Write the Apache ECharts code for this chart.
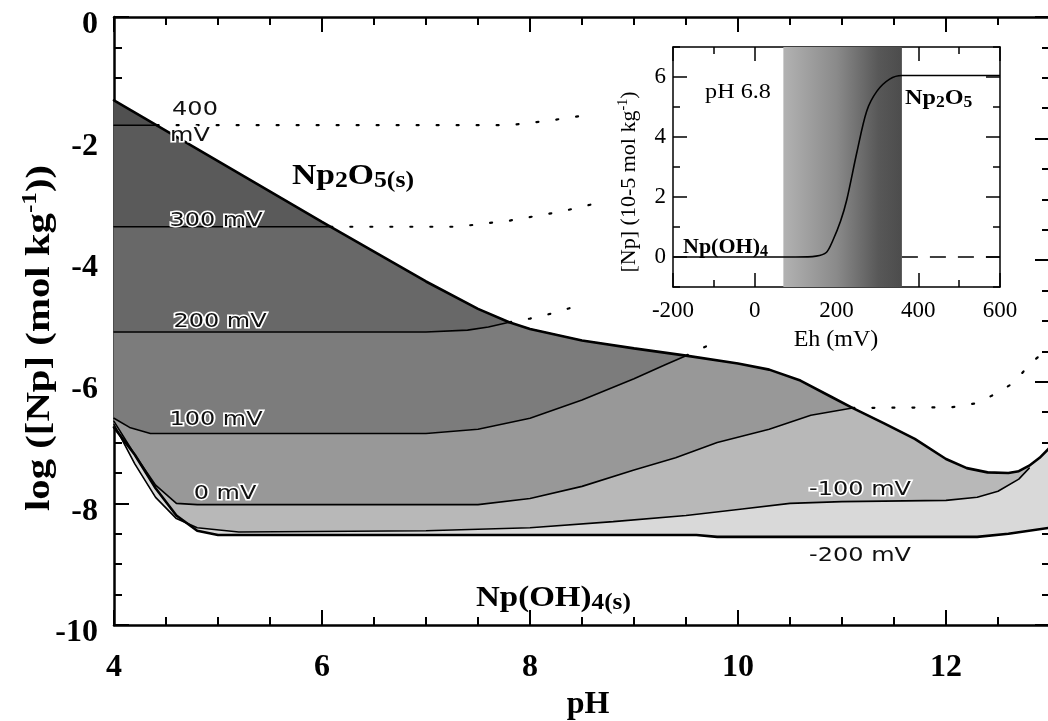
<!DOCTYPE html>
<html><head><meta charset="utf-8">
<script src="https://cdn.jsdelivr.net/npm/echarts@6/dist/echarts.min.js"></script>
<style>html,body{margin:0;padding:0;background:#fff}#c{width:1048px;height:721px}</style>
</head><body><div id="c"></div>
<script>
// ---------- data (pH, log[Np]) ----------
const xTickVals = [4, 6, 8, 10, 12];
const yTickVals = [0, -2, -4, -6, -8, -10];
// Np2O5(s) solubility boundary (upper envelope)
const solNp2O5 = [[4,-1.37],[5,-2.37],[6,-3.37],[7,-4.35],[7.5,-4.8],[7.8,-5.02],[8.0,-5.13],[8.5,-5.32],[9.0,-5.45],[9.5,-5.57],[10.0,-5.7],[10.3,-5.8],[10.6,-5.98],[10.9,-6.25],[11.1,-6.43],[11.4,-6.68],[11.7,-6.94],[12.0,-7.27],[12.2,-7.42],[12.4,-7.49],[12.6,-7.5],[12.7,-7.47],[12.8,-7.38],[12.9,-7.25],[13.0,-7.08]];
// iso-Eh lines (solid part, below the Np2O5 boundary)
const eh400 = [[4,-1.78],[4.41,-1.78]];
const eh300 = [[4,-3.45],[6.08,-3.45]];
const eh200 = [[4,-5.18],[7.0,-5.18],[7.4,-5.15],[7.6,-5.1],[7.8,-5.02]];
const eh100 = [[4,-6.6],[4.15,-6.75],[4.35,-6.85],[7.0,-6.85],[7.5,-6.78],[8.0,-6.6],[8.5,-6.3],[9.0,-5.95],[9.3,-5.72],[9.5,-5.57]];
const eh0 = [[4,-6.65],[4.2,-7.2],[4.4,-7.7],[4.6,-8.0],[4.8,-8.02],[7.5,-8.02],[8.0,-7.92],[8.5,-7.72],[9.0,-7.45],[9.4,-7.25],[9.8,-7.0],[10.3,-6.78],[10.7,-6.55],[11.1,-6.43]];
const ehM100 = [[4,-6.7],[4.2,-7.35],[4.4,-7.9],[4.6,-8.25],[4.8,-8.4],[5.2,-8.47],[7.0,-8.45],[8.0,-8.4],[8.8,-8.3],[9.5,-8.2],[10.0,-8.1],[10.5,-8.0],[11.0,-7.97],[12.0,-7.95],[12.3,-7.9],[12.5,-7.8],[12.7,-7.6],[12.8,-7.42]];
const ehM200 = [[4,-6.75],[4.2,-7.2],[4.4,-7.75],[4.6,-8.2],[4.8,-8.45],[5.0,-8.52],[9.6,-8.52],[9.8,-8.55],[12.3,-8.55],[12.6,-8.5],[13.0,-8.4]];
// dotted continuations into the Np2O5(s) field
const dot400 = [[4.41,-1.78],[7.8,-1.78],[8.2,-1.7],[8.6,-1.6]];
const dot300 = [[6.08,-3.45],[7.3,-3.45],[7.8,-3.35],[8.3,-3.2],[8.6,-3.08]];
const dot200 = [[7.8,-5.02],[8.0,-4.96],[8.2,-4.88],[8.4,-4.78]];
const dot100 = [[9.5,-5.57],[9.65,-5.45],[9.85,-5.3]];
const dot0 = [[11.1,-6.43],[12.05,-6.42],[12.3,-6.35],[12.45,-6.22],[12.65,-6.02],[12.8,-5.72],[13.0,-5.42]];
// inset: [Np] (1e-5 mol/kg) vs Eh (mV) at pH 6.8
const insetEh = [-200, 100, 150, 175, 191, 210, 225, 250, 274, 299, 330, 360, 600];
const insetNp = [0, 0, 0.03, 0.15, 0.55, 1.2, 1.9, 3.5, 4.87, 5.53, 5.93, 6.05, 6.05];
const insetBand = [70, 360];
const insetDashed = [[360, 0], [600, 0]];
const insetYTicks = [0, 2, 4, 6];

// ---------- build ----------
function ext(L) {
  const last = L[L.length - 1][0];
  return L.concat(solNp2O5.filter(p => p[0] > last + 1e-9));
}
const full400 = ext(eh400), full300 = ext(eh300), full200 = ext(eh200),
      full100 = ext(eh100), full0 = ext(eh0), fullM100 = ext(ehM100);
const bands = [
  [solNp2O5, full400, '#505050'],
  [full400, full300, '#5a5a5a'],
  [full300, full200, '#686868'],
  [full200, full100, '#7c7c7c'],
  [full100, full0, '#989898'],
  [full0, fullM100, '#b8b8b8'],
  [fullM100, ehM200, '#d9d9d9']
];
function bandSeries(upper, lower, color) {
  return {
    type: 'custom', coordinateSystem: 'cartesian2d', xAxisIndex: 0, yAxisIndex: 0,
    data: [[upper[0][0], upper[0][1]]], silent: true, z: 1, animation: false,
    renderItem: function (params, api) {
      const pts = upper.map(p => api.coord(p)).concat(lower.slice().reverse().map(p => api.coord(p)));
      return { type: 'polygon', shape: { points: pts }, style: { fill: color, stroke: color, lineWidth: 0.6 } };
    }
  };
}
function lineSeries(data, width, dotted) {
  return {
    type: 'line', xAxisIndex: 0, yAxisIndex: 0, data: data, showSymbol: false, symbol: 'none',
    silent: true, z: dotted ? 3 : 4, animation: false,
    lineStyle: { color: '#000', width: width, type: dotted ? [2, 18] : 'solid', cap: 'round' }
  };
}

const serif = 'Liberation Serif, Times New Roman, serif';
const sans = 'DejaVu Sans, sans-serif';
function ax(o) {
  const base = {
    splitLine: { show: false },
    axisLine: { show: true, onZero: false, lineStyle: { color: '#000', width: 2.5 } },
    axisTick: { show: true, inside: true, length: 15, lineStyle: { color: '#000', width: 2 } },
    axisLabel: { show: false }
  };
  const r = Object.assign(base, o);
  r.axisLine = Object.assign({ onZero: false }, r.axisLine);
  return r;
}
const minorTickMain = { show: true, inside: true, length: 8, lineStyle: { color: '#000', width: 2 } };
const inLine = { show: true, onZero: false, lineStyle: { color: '#000', width: 1.5 } };

const xAxes = [
  ax({ gridIndex: 0, type: 'value', min: 4, max: 13, interval: 2, position: 'bottom',
       axisLabel: { show: true, showMaxLabel: false, color: '#000', fontFamily: serif, fontWeight: 'bold', fontSize: 32, margin: 27,
                    formatter: v => xTickVals.indexOf(v) >= 0 ? String(v) : '' } }),
  ax({ gridIndex: 0, type: 'value', min: 4, max: 13, interval: 0.5, position: 'bottom', axisLine: { show: false }, axisTick: minorTickMain }),
  ax({ gridIndex: 0, type: 'value', min: 4, max: 13, interval: 2, position: 'top' }),
  ax({ gridIndex: 0, type: 'value', min: 4, max: 13, interval: 0.5, position: 'top', axisLine: { show: false }, axisTick: minorTickMain }),
  // inset
  ax({ gridIndex: 1, type: 'value', min: -200, max: 600, interval: 200, position: 'bottom', axisLine: inLine,
       axisTick: { show: true, inside: true, length: 14, lineStyle: { color: '#000', width: 1.5 } },
       minorTick: { show: true, splitNumber: 2, length: 7, lineStyle: { color: '#000', width: 1.5 } },
       axisLabel: { show: true, color: '#000', fontFamily: serif, fontSize: 23, margin: 12 } }),
  ax({ gridIndex: 1, type: 'value', min: -200, max: 600, interval: 200, position: 'top', axisLine: inLine,
       axisTick: { show: true, inside: true, length: 14, lineStyle: { color: '#000', width: 1.5 } },
       minorTick: { show: true, splitNumber: 2, length: 7, lineStyle: { color: '#000', width: 1.5 } } })
];
const yAxes = [
  ax({ gridIndex: 0, type: 'value', min: -10, max: 0, interval: 2, position: 'left',
       axisLabel: { show: true, color: '#000', fontFamily: serif, fontWeight: 'bold', fontSize: 32, margin: 16,
                    verticalAlign: 'top', lineHeight: 16,
                    formatter: v => yTickVals.indexOf(v) >= 0 ? String(v) : '' } }),
  ax({ gridIndex: 0, type: 'value', min: -10, max: 0, interval: 0.5, position: 'left', axisLine: { show: false }, axisTick: minorTickMain }),
  ax({ gridIndex: 0, type: 'value', min: -10, max: 0, interval: 2, position: 'right' }),
  ax({ gridIndex: 0, type: 'value', min: -10, max: 0, interval: 0.5, position: 'right', axisLine: { show: false }, axisTick: minorTickMain }),
  // inset left (short ticks every 1, labels on even)
  ax({ gridIndex: 1, type: 'value', min: -1, max: 7, interval: 1, position: 'left', axisLine: inLine,
       axisTick: { show: true, inside: true, length: 7, lineStyle: { color: '#000', width: 1.5 } },
       axisLabel: { show: true, color: '#000', fontFamily: serif, fontSize: 23, margin: 7,
                    formatter: v => insetYTicks.indexOf(v) >= 0 ? String(v) : '' } }),
  ax({ gridIndex: 1, type: 'value', min: -1, max: 7, position: 'left', axisLine: { show: false },
       axisTick: { show: true, inside: true, length: 14, customValues: insetYTicks, lineStyle: { color: '#000', width: 1.5 } } }),
  ax({ gridIndex: 1, type: 'value', min: -1, max: 7, interval: 1, position: 'right', axisLine: inLine,
       axisTick: { show: true, inside: true, length: 7, lineStyle: { color: '#000', width: 1.5 } } }),
  ax({ gridIndex: 1, type: 'value', min: -1, max: 7, position: 'right', axisLine: { show: false },
       axisTick: { show: true, inside: true, length: 14, customValues: insetYTicks, lineStyle: { color: '#000', width: 1.5 } } })
];

const series = [];
bands.forEach(b => series.push(bandSeries(b[0], b[1], b[2])));
[dot400, dot300, dot200, dot100, dot0].forEach(d => series.push(lineSeries(d, 2.2, true)));
series.push(lineSeries(solNp2O5, 2.6, false));
series.push(lineSeries(ehM200, 2.6, false));
[eh400, eh300, eh200, eh100, eh0, ehM100].forEach(d => series.push(lineSeries(d, 1.6, false)));
// inset
series.push({
  type: 'line', xAxisIndex: 4, yAxisIndex: 4, data: insetEh.map((e, i) => [e, insetNp[i]]),
  showSymbol: false, smooth: 0.3, silent: true, animation: false, z: 6,
  lineStyle: { color: '#000', width: 1.6 },
  markArea: { silent: true, z: 1,
    itemStyle: { color: new echarts.graphic.LinearGradient(0, 0, 1, 0, [
      { offset: 0, color: '#b2b2b2' }, { offset: 0.45, color: '#8a8a8a' }, { offset: 0.8, color: '#585858' }, { offset: 1, color: '#4c4c4c' }]) },
    data: [[{ xAxis: insetBand[0], yAxis: -1 }, { xAxis: insetBand[1], yAxis: 7 }]] }
});
series.push({
  type: 'line', xAxisIndex: 4, yAxisIndex: 4, data: insetDashed, showSymbol: false, silent: true, animation: false, z: 6,
  lineStyle: { color: '#000', width: 1.6, type: [16, 12] }
});

const mv = (t, x, y) => ({
  type: 'text', x: x, y: y, z: 50, scaleX: 1.2,
  style: { text: t, font: '20px ' + sans, fill: '#111', stroke: '#fff', lineWidth: 3, align: 'center', verticalAlign: 'middle' }
});
const big = { fontFamily: serif, fontWeight: 'bold', fontSize: 30, fill: '#000', lineHeight: 34 };
const bigSub = { fontFamily: serif, fontWeight: 'bold', fontSize: 23, fill: '#000', lineHeight: 34, verticalAlign: 'bottom' };
const inN = { fontFamily: serif, fontWeight: 'bold', fontSize: 22, fill: '#000', lineHeight: 26 };
const inSub = { fontFamily: serif, fontWeight: 'bold', fontSize: 16, fill: '#000', lineHeight: 26, verticalAlign: 'bottom' };

const graphics = [
  mv('400', 195, 110), mv('mV', 190, 136),
  mv('300 mV', 216, 221), mv('200 mV', 220, 322), mv('100 mV', 216, 420),
  mv('0 mV', 225, 494), mv('-100 mV', 860, 490), mv('-200 mV', 860, 556),
  { type: 'text', x: 292, y: 176, z: 50, scaleX: 1.12, style: { text: '{a|Np}{b|2}{a|O}{b|5(s)}', rich: { a: big, b: bigSub }, verticalAlign: 'middle' } },
  { type: 'text', x: 476, y: 598, z: 50, scaleX: 1.1, style: { text: '{a|Np(OH)}{b|4(s)}', rich: { a: big, b: bigSub }, verticalAlign: 'middle' } },
  { type: 'text', x: 588, y: 705, z: 50, style: { text: 'pH', font: 'bold 32px ' + serif, fill: '#000', align: 'center', verticalAlign: 'middle' } },
  { type: 'text', x: 40, y: 338, z: 50, rotation: Math.PI / 2, scaleX: 1.2,
    style: { text: '{a|log ([Np] (mol kg}{s|-1}{a|))}', align: 'center', verticalAlign: 'middle',
      rich: { a: { fontFamily: serif, fontWeight: 'bold', fontSize: 34, fill: '#000', lineHeight: 40 },
              s: { fontFamily: serif, fontWeight: 'bold', fontSize: 21, fill: '#000', lineHeight: 40, verticalAlign: 'top' } } } },
  // inset texts
  { type: 'text', x: 738, y: 92, z: 50, scaleX: 1.1, style: { text: 'pH 6.8', font: '22px ' + serif, fill: '#000', align: 'center', verticalAlign: 'middle' } },
  { type: 'text', x: 905, y: 98, z: 50, scaleX: 1.1, style: { text: '{a|Np}{b|2}{a|O}{b|5}', rich: { a: inN, b: inSub }, verticalAlign: 'middle' } },
  { type: 'text', x: 683, y: 247, z: 50, style: { text: '{a|Np(OH)}{b|4}', rich: { a: inN, b: inSub }, verticalAlign: 'middle' } },
  { type: 'text', x: 836, y: 340, z: 50, style: { text: 'Eh (mV)', font: '24px ' + serif, fill: '#000', align: 'center', verticalAlign: 'middle' } },
  { type: 'text', x: 629, y: 182, z: 50, rotation: Math.PI / 2,
    style: { text: '{a|[Np] (10-5 mol kg}{s|-1}{a|)}', align: 'center', verticalAlign: 'middle',
      rich: { a: { fontFamily: serif, fontSize: 22, fill: '#000', lineHeight: 26 },
              s: { fontFamily: serif, fontSize: 14, fill: '#000', lineHeight: 26, verticalAlign: 'top' } } } }
];

const chart = echarts.init(document.getElementById('c'), null, { renderer: 'canvas' });
chart.setOption({
  backgroundColor: '#fff',
  animation: false,
  grid: [
    { left: 114, top: 17, width: 936, height: 608, outerBoundsMode: 'none', containLabel: false },
    { left: 673, top: 47, width: 327, height: 240, outerBoundsMode: 'none', containLabel: false, show: true, backgroundColor: '#fff', borderWidth: 0 }
  ],
  xAxis: xAxes,
  yAxis: yAxes,
  series: series,
  graphic: graphics
});
</script></body></html>
